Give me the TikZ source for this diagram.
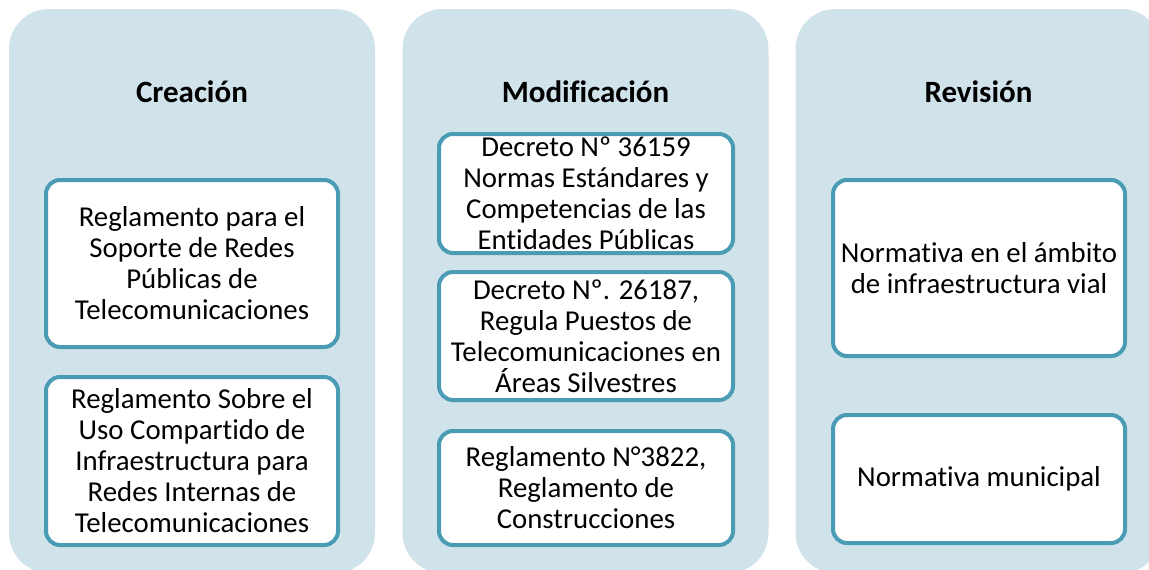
\documentclass[tikz,border=0pt]{standalone}
\usepackage{fontspec}
\setmainfont{Carlito}[Ligatures=NoCommon]
\definecolor{colfill}{HTML}{D0E2EA}
\definecolor{boxline}{HTML}{4A9BB4}
\tikzset{
  colbox/.style={fill=colfill, rounded corners=40pt, minimum width=366pt, minimum height=564pt, inner sep=0pt},
  coltitle/.style={font=\fontsize{31}{36}\selectfont\bfseries, anchor=base, inner sep=0pt},
  itembox/.style={draw=boxline, line width=4pt, fill=white, rounded corners=14pt, align=center, inner sep=0pt, minimum width=292pt, font=\fontsize{28.8}{31}\selectfont},
}
\begin{document}
\begin{tikzpicture}[x=1pt,y=-1pt]
\useasboundingbox (0,0) rectangle (1149,570);
\begin{scope}
\clip (0,0) rectangle (1149,570);
\node[colbox] (c1) at (192,291) {};
\node[colbox] (c2) at (585.5,291) {};
\node[colbox] (c3) at (978.5,291) {};
\end{scope}
\node[coltitle] (t1) at (192,102) {Creación};
\node[coltitle] (t2) at (585.5,102) {Modificación};
\node[coltitle] (t3) at (978.5,102) {Revisión};

\node[itembox, minimum height=167pt] (l1) at (192,263.5) {Reglamento para el\\Soporte de Redes\\Públicas de\\Telecomunicaciones};
\node[itembox, minimum height=168pt] (l2) at (192,461) {Reglamento Sobre el\\Uso Compartido de\\Infraestructura para\\Redes Internas de\\Telecomunicaciones};

\node[itembox, minimum width=294pt, minimum height=119pt] (m1) at (586,193.5) {Decreto Nº 36159\\Normas Estándares y\\Competencias de las\\Entidades Públicas};
\node[itembox, minimum width=294pt, minimum height=128pt] (m2) at (586,336) {Decreto Nº. 26187,\\Regula Puestos de\\Telecomunicaciones en\\Áreas Silvestres};
\node[itembox, minimum width=294pt, minimum height=114pt] (m3) at (586,488) {Reglamento N°3822,\\Reglamento de\\Construcciones};

\node[itembox, minimum height=176pt] (r1) at (979,268) {Normativa en el ámbito\\de infraestructura vial};
\node[itembox, minimum height=128pt] (r2) at (979,479) {Normativa municipal};
\end{tikzpicture}
\end{document}
